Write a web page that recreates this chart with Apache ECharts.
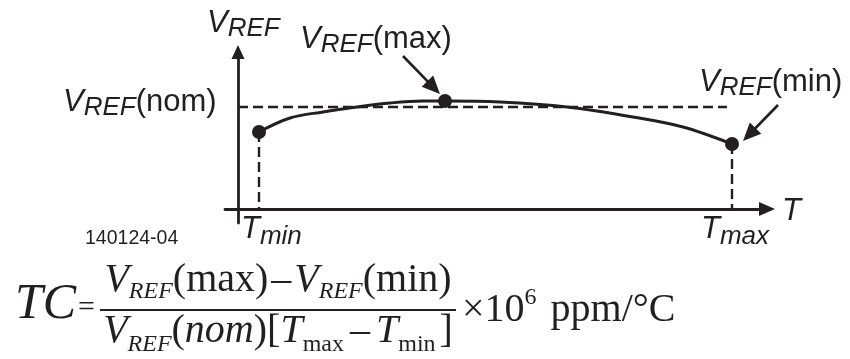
<!DOCTYPE html>
<html>
<head>
<meta charset="utf-8">
<script src="https://cdn.jsdelivr.net/npm/echarts@6.0.0/dist/echarts.min.js"></script>
<style>
  html, body { margin: 0; padding: 0; background: #ffffff; }
  #chart { width: 850px; height: 359px; }
</style>
</head>
<body>
<div id="chart"></div>
<script>
// Reference-voltage drift over temperature (arbitrary units; origin at the axis crossing)
const tempSamples = [21, 52, 85, 119, 152, 185, 207, 262, 329, 395, 445, 494];
const vrefSamples = [77, 91, 97, 102, 106, 108, 108, 107, 102, 92, 82, 65];

// Indices of the marked points: start (T min), peak (VREF max), end (T max / VREF min)
const markIdx = [0, 6, 11];
const vNom = 102;          // nominal reference level (dashed line)
const nomLineEnd = 489;    // where the nominal dashed line stops

const axisT = { min: -13, max: 529 };
const axisV = { min: -14, max: 157 };

const ink = '#231f20';
const sans = '"Liberation Sans", Arial, sans-serif';
const serif = '"Liberation Serif", "Times New Roman", serif';

const chart = echarts.init(document.getElementById('chart'), null, { renderer: 'canvas' });

const curve = tempSamples.map((t, i) => [t, vrefSamples[i]]);
const marks = markIdx.map(i => [tempSamples[i], vrefSamples[i]]);
const tMin = marks[0][0], tMax = marks[2][0];

const axisCommon = {
  type: 'value',
  splitLine: { show: false },
  axisTick: { show: false },
  axisLabel: { show: false },
  axisLine: {
    show: true,
    onZero: true,
    symbol: ['none', 'triangle'],
    lineStyle: { color: ink, width: 2.8 }
  }
};

chart.setOption({
  animation: false,
  backgroundColor: '#ffffff',
  grid: { left: 225, right: 83, top: 52, bottom: 136 },
  xAxis: Object.assign({}, axisCommon, {
    min: axisT.min, max: axisT.max,
    axisLine: Object.assign({}, axisCommon.axisLine, { symbolSize: [14, 16] })
  }),
  yAxis: Object.assign({}, axisCommon, {
    min: axisV.min, max: axisV.max,
    axisLine: Object.assign({}, axisCommon.axisLine, { symbolSize: [13, 14] })
  }),
  series: [
    {
      type: 'line',
      data: curve,
      smooth: 0.35,
      showSymbol: false,
      silent: true,
      lineStyle: { color: ink, width: 2.9 },
      z: 2
    },
    {
      type: 'scatter',
      data: marks,
      symbol: 'circle',
      symbolSize: 14,
      silent: true,
      itemStyle: { color: ink, opacity: 1 },
      z: 4,
      markLine: {
        silent: true,
        symbol: ['none', 'none'],
        label: { show: false },
        lineStyle: { color: ink, width: 2.4, type: [10, 5], opacity: 1 },
        emphasis: { disabled: true },
        data: [
          [{ coord: [0, vNom] }, { coord: [nomLineEnd, vNom] }],
          [{ coord: marks[0] }, { coord: [tMin, 0] }],
          [{ coord: marks[2] }, { coord: [tMax, 0] }]
        ]
      }
    }
  ]
});

// ---- annotations -------------------------------------------------------
const mctx = document.createElement('canvas').getContext('2d');
function measure(text, font) { mctx.font = font; return mctx.measureText(text).width; }

// Lay out a run of text pieces on a shared baseline; dy shifts a piece down (subscript) or up.
function textRun(x, baseline, parts) {
  const els = [];
  let cx = x;
  parts.forEach(p => {
    const size = p.size;
    const font = (p.italic ? 'italic ' : '') + size + 'px ' + (p.family || sans);
    els.push({
      type: 'text',
      x: cx,
      y: baseline + (p.dy || 0) - 0.345 * size,
      silent: true,
      style: { text: p.t, font: font, fill: ink, align: 'left', verticalAlign: 'middle' }
    });
    cx += measure(p.t, font) + (p.gap || 0);
  });
  return { els, width: cx - x };
}
function runWidth(parts) { return textRun(0, 0, parts).width; }

function vref(suffix, size, sub) {
  const parts = [
    { t: 'V', size: size, italic: true, gap: 0 },
    { t: 'REF', size: sub, italic: true, dy: 4 }
  ];
  if (suffix) parts.push({ t: suffix, size: size });
  return parts;
}

function arrow(tail, tip, headLen, headHalf) {
  const dx = tip[0] - tail[0], dy = tip[1] - tail[1];
  const len = Math.hypot(dx, dy);
  const ux = dx / len, uy = dy / len;
  const bx = tip[0] - ux * headLen, by = tip[1] - uy * headLen;
  return [
    { type: 'line', silent: true,
      shape: { x1: tail[0], y1: tail[1], x2: bx + ux * 2, y2: by + uy * 2 },
      style: { stroke: ink, lineWidth: 2.6 } },
    { type: 'polygon', silent: true,
      shape: { points: [tip, [bx - uy * headHalf, by + ux * headHalf], [bx + uy * headHalf, by - ux * headHalf]] },
      style: { fill: ink } }
  ];
}

const px = p => chart.convertToPixel({ gridIndex: 0 }, p);
const pPeak = px(marks[1]);
const pEnd = px(marks[2]);

let g = [];
// axis titles and point captions
g = g.concat(textRun(207, 34, vref('', 31, 26)).els);
g = g.concat(textRun(300, 50, vref('(max)', 31, 26)).els);
g = g.concat(textRun(63, 113, vref('(nom)', 31, 26)).els);
g = g.concat(textRun(699, 93, vref('(min)', 31, 26)).els);
g = g.concat(textRun(241, 240, [{ t: 'T', size: 31, italic: true }, { t: 'min', size: 26, italic: true, dy: 6 }]).els);
g = g.concat(textRun(701, 240, [{ t: 'T', size: 31, italic: true }, { t: 'max', size: 26, italic: true, dy: 6 }]).els);
g = g.concat(textRun(782, 222, [{ t: 'T', size: 31, italic: true }]).els);
g = g.concat(textRun(85, 245, [{ t: '140124-04', size: 19.5 }]).els);

// pointers to the peak and the end point
g = g.concat(arrow([pPeak[0] - 42, pPeak[1] - 45], [pPeak[0] - 5, pPeak[1] - 7], 18, 8));
g = g.concat(arrow([pEnd[0] + 46, pEnd[1] - 39], [pEnd[0] + 11, pEnd[1] - 3], 18, 8));

// temperature-coefficient formula
const F = 40, FS = 24;
const numParts = [
  { t: 'V', size: F, italic: true, family: serif },
  { t: 'REF', size: FS, italic: true, family: serif, dy: 6 },
  { t: '(max)', size: F, family: serif, gap: 3 },
  { t: '\u2013', size: F, family: serif, gap: 3 },
  { t: 'V', size: F, italic: true, family: serif },
  { t: 'REF', size: FS, italic: true, family: serif, dy: 6 },
  { t: '(min)', size: F, family: serif }
];
const denParts = [
  { t: 'V', size: F, italic: true, family: serif },
  { t: 'REF', size: FS, italic: true, family: serif, dy: 8 },
  { t: '(', size: F, family: serif },
  { t: 'nom', size: F, italic: true, family: serif },
  { t: ')[', size: F, family: serif },
  { t: 'T', size: F, italic: true, family: serif },
  { t: 'max', size: FS, family: serif, dy: 8, gap: 6 },
  { t: '\u2013', size: F, family: serif, gap: 6 },
  { t: 'T', size: F, italic: true, family: serif },
  { t: 'min', size: FS, family: serif, dy: 8, gap: 4 },
  { t: ']', size: F, family: serif }
];
const barL = 100, barR = 456, barY = 310;
const barC = (barL + barR) / 2;
g = g.concat(textRun(15, 322, [{ t: 'TC', size: 50, italic: true, family: serif }]).els);
g = g.concat(textRun(78, 318, [{ t: '=', size: 30, family: serif }]).els);
g = g.concat(textRun(barC - runWidth(numParts) / 2, 294, numParts).els);
g.push({ type: 'line', silent: true, shape: { x1: barL, y1: barY, x2: barR, y2: barY }, style: { stroke: ink, lineWidth: 2.2 } });
g = g.concat(textRun(barC - runWidth(denParts) / 2, 345, denParts).els);
g = g.concat(textRun(462, 324, [
  { t: '\u00d7', size: F, family: serif },
  { t: '10', size: F, family: serif },
  { t: '6', size: FS, family: serif, dy: -18, gap: 14 },
  { t: 'ppm/\u00b0C', size: F, family: serif }
]).els);

chart.setOption({ graphic: g });
</script>
</body>
</html>
